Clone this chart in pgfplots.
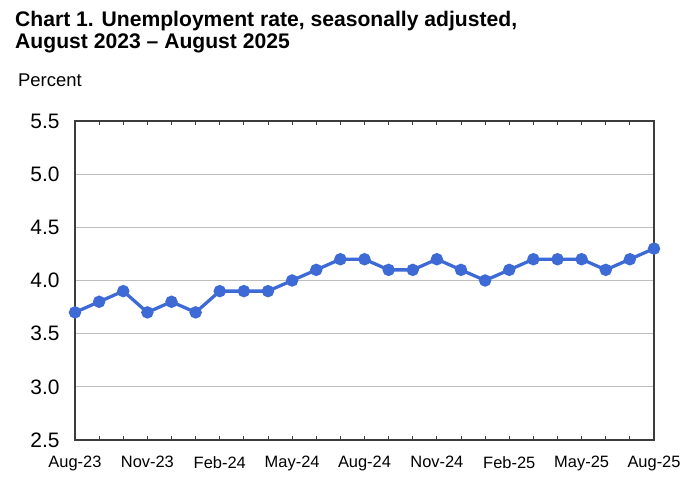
\documentclass[border=0pt]{standalone}
\usepackage{pgfplots}
\pgfplotsset{compat=1.18}
\usepackage{fontspec}
\setmainfont{Liberation Sans}
\definecolor{lineblue}{RGB}{62,106,214}
\definecolor{gridgray}{RGB}{190,190,190}
\definecolor{axisdark}{RGB}{60,60,60}
\begin{document}
\begin{tikzpicture}[x=1bp,y=1bp]
\useasboundingbox (0,0) rectangle (700,504);
\node[anchor=base west, font=\fontsize{21.2}{23}\selectfont\bfseries, inner sep=0pt] at (15,477) {Chart 1. Unemployment rate, seasonally adjusted,};
\node[anchor=base west, font=\fontsize{21.2}{23}\selectfont\bfseries, inner sep=0pt] at (15,455) {August 2023 -- August 2025};
\node[anchor=base west, font=\fontsize{18.5}{20}\selectfont, inner sep=0pt] at (18,417) {Percent};
\begin{axis}[
  at={(75bp,64bp)}, anchor=south west,
  scale only axis, width=579bp, height=319bp,
  xmin=0, xmax=24, ymin=2.5, ymax=5.5,
  ytick={2.5,3.0,3.5,4.0,4.5,5.0,5.5},
  yticklabels={2.5,3.0,3.5,4.0,4.5,5.0,5.5},
  xtick={0,3,6,9,12,15,18,21,24},
  xticklabels={Aug-23,Nov-23,Feb-24,May-24,Aug-24,Nov-24,Feb-25,May-25,Aug-25},
  minor xtick={1,2,4,5,7,8,10,11,13,14,16,17,19,20,22,23},
  ymajorgrids, grid style={gridgray, line width=1.2pt},
  major x tick style={axisdark, line width=0.8pt},
  minor x tick style={axisdark, line width=0.8pt},
  tick align=inside, major tick length=4bp, minor tick length=4bp,
  ytick style={draw=none},
  axis line style={axisdark, line width=1.6pt},
  yticklabel style={font=\fontsize{21}{24}\selectfont, xshift=-12bp},
  xticklabel style={font=\fontsize{16.5}{18}\selectfont, yshift=-13bp},
  /pgf/number format/assume math mode=true,
  clip=false,
]
\addplot[lineblue, line width=3.3pt, mark=*, mark size=4.5bp, mark options={fill=lineblue, draw=lineblue}] coordinates {
(0,3.7) (1,3.8) (2,3.9) (3,3.7) (4,3.8) (5,3.7) (6,3.9) (7,3.9) (8,3.9) (9,4.0) (10,4.1) (11,4.2) (12,4.2) (13,4.1) (14,4.1) (15,4.2) (16,4.1) (17,4.0) (18,4.1) (19,4.2) (20,4.2) (21,4.2) (22,4.1) (23,4.2) (24,4.3)
};
\end{axis}
\end{tikzpicture}
\end{document}
